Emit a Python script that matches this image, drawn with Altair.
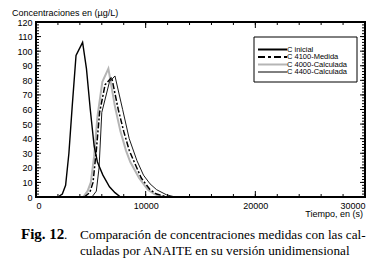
import altair as alt
import pandas as pd

# ---- data ----
series_names = ["C inicial", "C 4100-Medida", "C 4000-Calculada", "C 4400-Calculada"]

t_inicial = [2000, 2400, 2700, 3000, 3300, 3650, 4250, 4600, 4950, 5300, 5600, 6100, 6700, 7200, 7700]
v_inicial = [0, 2, 8, 30, 62, 97, 106, 88, 60, 35, 24, 15, 7, 3, 0]

t_medida = [4400, 4900, 5200, 5500, 5800, 6300, 6900, 7500, 8000, 8500, 8900, 9600, 10400, 11000, 12000]
v_medida = [0, 3, 10, 32, 58, 77, 82, 60, 45, 32, 25, 13, 5, 2, 0]

t_c4000 = [4300, 4700, 5000, 5300, 5600, 6050, 6600, 7200, 7700, 8200, 8600, 9400, 10200, 10800, 11600]
v_c4000 = [0, 4, 10, 28, 55, 79, 88, 62, 45, 32, 24, 13, 5, 2, 0]

t_c4400 = [5100, 5500, 5750, 6000, 6700, 7200, 7900, 8500, 9200, 9800, 10400, 11000, 11900, 12700]
v_c4400 = [0, 4, 20, 58, 79, 83, 60, 40, 25, 15, 9, 5, 1.5, 0]

x_major = [0, 10000, 20000, 30000]
x_minor = list(range(0, 30001, 2000))
y_major = list(range(0, 121, 10))
y_minor = list(range(0, 121, 2))

y_title = "Concentraciones en (µg/L)"
x_title = "Tiempo, en (s)"
cap_bold = "Fig. 12"
cap_line1 = "Comparación de concentraciones medidas con las cal-"
cap_line2 = "culadas por ANAITE en su versión unidimensional"

# ---- layout ----
W, H = 329, 175
SANS = "Liberation Sans"
SERIF = "Liberation Serif"

xs = alt.Scale(domain=[0, 30000], nice=False, zero=False)
ys = alt.Scale(domain=[0, 120], nice=False, zero=False)

XAX = alt.Axis(values=x_major, ticks=False, domain=False, grid=False,
               labelFont=SANS, labelFontSize=9, labelColor="black",
               labelPadding=4, labelFlush=True, format="d", title=None)
YAX = alt.Axis(values=y_major, ticks=False, domain=False, grid=False,
               labelFont=SANS, labelFontSize=9, labelColor="black",
               labelPadding=4, format="d", title=None)

def X(field):
    return alt.X(field, scale=xs, axis=XAX)

def Y(field):
    return alt.Y(field, scale=ys, axis=YAX)

styles = {
    "C inicial": dict(color="black", width=1.4, dash=None),
    "C 4100-Medida": dict(color="black", width=1.5, dash=[6, 2, 2, 2]),
    "C 4000-Calculada": dict(color="#b5b5b5", width=2.0, dash=None),
    "C 4400-Calculada": dict(color="black", width=0.9, dash=None),
}

def line(t, v, st):
    kw = dict(color=st["color"], strokeWidth=st["width"])
    if st["dash"]:
        kw["strokeDash"] = st["dash"]
    return alt.Chart(pd.DataFrame({"t": t, "v": v})).mark_line(**kw).encode(
        x=X("t:Q"), y=Y("v:Q"), order="t:Q")

def xticks(vals, y0, y1):
    return alt.Chart(pd.DataFrame({"t": vals})).mark_rule(color="black", strokeWidth=1).encode(
        x=X("t:Q"), y=alt.value(y0), y2=alt.value(y1))

def yticks(vals, x0, x1):
    return alt.Chart(pd.DataFrame({"v": vals})).mark_rule(color="black", strokeWidth=1).encode(
        y=Y("v:Q"), x=alt.value(x0), x2=alt.value(x1))

ticks = [
    xticks(x_minor, H, H - 3), xticks(x_major, H, H - 6),
    xticks(x_minor, 0, 3), xticks(x_major, 0, 6),
    yticks(y_minor, 0, 3), yticks(y_major, 0, 5),
    yticks(y_minor, W, W - 3), yticks(y_major, W, W - 5),
]

one = pd.DataFrame({"a": [0]})

def text(s, x, y, size, font, align="left", baseline="alphabetic", weight="normal"):
    return alt.Chart(one).mark_text(align=align, baseline=baseline, font=font, fontSize=size,
                                    fontWeight=weight, color="black").encode(
        x=alt.value(x), y=alt.value(y), text=alt.value(s))

# frame
frame = alt.Chart(one).mark_rect(fill=None, stroke="black", strokeWidth=2).encode(
    x=alt.value(0), x2=alt.value(W), y=alt.value(0), y2=alt.value(H))

# legend
lx0, lx1, ly0, ly1 = 218, 321, 15, 60
legend_layers = [alt.Chart(one).mark_rect(fill="white", stroke="black", strokeWidth=1).encode(
    x=alt.value(lx0), x2=alt.value(lx1), y=alt.value(ly0), y2=alt.value(ly1))]
for i, name in enumerate(series_names):
    st = styles[name]
    yy = 27.5 + i * 7.5
    kw = dict(color=st["color"], strokeWidth=max(st["width"], 1.0) + (0.6 if i < 2 else 0))
    if st["dash"]:
        kw["strokeDash"] = [7, 3, 3, 3]
    legend_layers.append(alt.Chart(one).mark_rule(**kw).encode(
        x=alt.value(222), x2=alt.value(251), y=alt.value(yy)))
    legend_layers.append(text(name, 251, yy, 7.5, SANS, baseline="middle"))

lines = [
    line(t_c4000, v_c4000, styles["C 4000-Calculada"]),
    line(t_inicial, v_inicial, styles["C inicial"]),
    line(t_medida, v_medida, styles["C 4100-Medida"]),
    line(t_c4400, v_c4400, styles["C 4400-Calculada"]),
]

CS = 13.2
texts = [
    text(y_title, -24, -13, 9, SANS, baseline="top"),
    text(x_title, 327, 192, 9, SANS, align="right", baseline="middle"),
    text(cap_bold, -15, 217, 15, SERIF, weight="bold"),
    text(".", 28, 217, CS, SERIF),
    text(cap_line1, 44, 217, CS, SERIF),
    text(cap_line2, 44, 233, CS, SERIF),
]

chart = alt.layer(*lines, *ticks, frame, *legend_layers, *texts).properties(
    width=W, height=H, autosize="none",
    padding={"left": 28, "top": 14, "right": 7, "bottom": 61},
).configure_view(stroke=None).configure_axis(labelColor="black")

chart.save("out.html", embed_options={"renderer": "svg", "actions": False})
